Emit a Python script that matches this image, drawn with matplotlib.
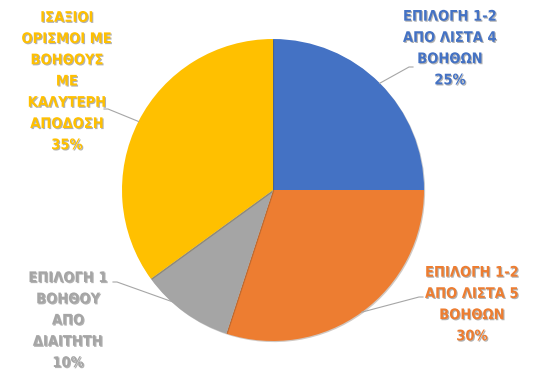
import numpy as np
import matplotlib
matplotlib.use("Agg")
from matplotlib import pyplot as plt
import matplotlib.patheffects as pe

labels = [
    "ΕΠΙΛΟΓΗ 1-2\nΑΠΟ ΛΙΣΤΑ 4\nΒΟΗΘΩΝ",
    "ΕΠΙΛΟΓΗ 1-2\nΑΠΟ ΛΙΣΤΑ 5\nΒΟΗΘΩΝ",
    "ΕΠΙΛΟΓΗ 1\nΒΟΗΘΟΥ\nΑΠΟ\nΔΙΑΙΤΗΤΗ",
    "ΙΣΑΞΙΟΙ\nΟΡΙΣΜΟΙ ΜΕ\nΒΟΗΘΟΥΣ\nΜΕ\nΚΑΛΥΤΕΡΗ\nΑΠΟΔΟΣΗ",
]
values = [25, 30, 10, 35]
colors = ['#4472C4', '#ED7D31', '#A5A5A5', '#FFC000']

W, H = 547, 380
# label text centre (image pixels), leader start point (image pixels)
label_pos = [(450, 48), (472, 304), (68, 320), (67, 81)]
leader_start = [(413, 67), (423, 297), (113, 282), (104, 109)]
leader_r = [1.0, 1.0, 0.96, 1.0]

cx, cy, R = 273, H - 190, 151

fig = plt.figure(figsize=(W / 100, H / 100), dpi=100)
ax = fig.add_axes([0, 0, 1, 1])

wedges, _ = ax.pie(
    values,
    colors=colors,
    startangle=90,
    counterclock=False,
    center=(cx, cy),
    radius=R,
    wedgeprops=dict(linewidth=0),
)
for w in wedges:
    w.set_path_effects([pe.SimplePatchShadow(offset=(0.8, -0.8), alpha=0.25), pe.Normal()])

# pie() sets its own limits, so set ours afterwards
ax.set_xlim(0, W)
ax.set_ylim(0, H)
ax.set_aspect('equal')
ax.axis('off')

total = sum(values)
cum = 0
for i, v in enumerate(values):
    mid = np.deg2rad(90 - (cum + v / 2) / total * 360)
    cum += v
    ex = cx + leader_r[i] * R * np.cos(mid)
    ey = cy + leader_r[i] * R * np.sin(mid)
    sx, sy = leader_start[i]
    sy = H - sy
    bend = sx + (4 if ex > sx else -4)
    ax.plot([sx, bend, ex], [sy, sy, ey], color='#A6A6A6', linewidth=0.8, zorder=1)

    lx, ly = label_pos[i]
    ax.text(
        lx, H - ly,
        labels[i] + f"\n{v}%",
        ha='center', va='center',
        color=colors[i],
        fontsize=10.5, fontweight='bold',
        family='DejaVu Sans', fontstretch='condensed',
        linespacing=1.52,
        path_effects=[pe.withSimplePatchShadow(offset=(0.8, -0.8), shadow_rgbFace='#555555', alpha=0.45)],
    )

fig.savefig("out.png", dpi=100)
